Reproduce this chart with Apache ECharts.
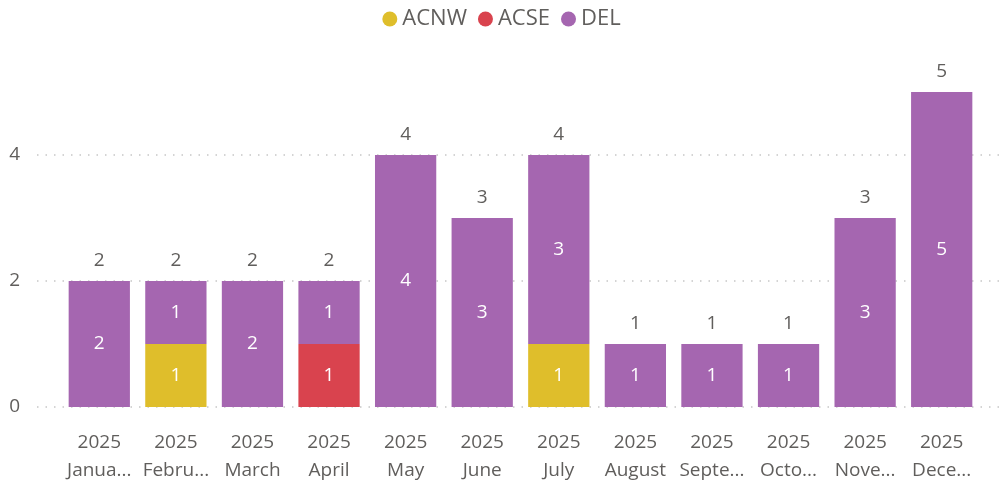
<!DOCTYPE html>
<html>
<head>
<meta charset="utf-8">
<script src="https://cdn.jsdelivr.net/npm/echarts@6/dist/echarts.min.js"></script>
<style>html,body{margin:0;padding:0;background:#fff;}#c{width:1003px;height:482px;}</style>
</head>
<body>
<div id="c"></div>
<script>
var categories = ['2025\nJanua...', '2025\nFebru...', '2025\nMarch', '2025\nApril', '2025\nMay', '2025\nJune', '2025\nJuly', '2025\nAugust', '2025\nSepte...', '2025\nOcto...', '2025\nNove...', '2025\nDece...'];
var acnw = [null, 1, null, null, null, null, 1, null, null, null, null, null];
var acse = [null, null, null, 1, null, null, null, null, null, null, null, null];
var del  = [2, 1, 2, 1, 4, 3, 3, 1, 1, 1, 3, 5];
var totals = [2, 2, 2, 2, 4, 3, 4, 1, 1, 1, 3, 5];
var yTicks = [0, 2, 4];

var FONT = '"Open Sans", "Noto Sans", sans-serif';
var GRAY = '#605E5C';
var chart = echarts.init(document.getElementById('c'), null, {renderer: 'canvas'});
var inside = {show: true, position: 'inside', color: '#fff', fontSize: 19, fontFamily: FONT};
chart.setOption({
  animation: false,
  textStyle: {fontFamily: FONT},
  legend: {
    top: 3, left: 'center', icon: 'circle', itemWidth: 15, itemHeight: 15, itemGap: 11,
    textStyle: {fontSize: 22, color: GRAY, fontFamily: FONT},
    data: ['ACNW', 'ACSE', 'DEL']
  },
  grid: [
    {left: 61, right: 23, top: 29, bottom: 75, outerBoundsMode: 'none', containLabel: false},
    {left: 37, right: 3, top: 29, bottom: 75, outerBoundsMode: 'none', containLabel: false}
  ],
  xAxis: [
    {type: 'category', gridIndex: 0, data: categories,
     axisLine: {show: false}, axisTick: {show: false},
     axisLabel: {color: GRAY, fontSize: 19, lineHeight: 28, margin: 22, fontFamily: FONT, interval: 0}},
    {type: 'value', gridIndex: 1, min: 0, max: 1, show: false}
  ],
  yAxis: [
    {type: 'value', gridIndex: 0, min: 0, max: 6, interval: 2,
     axisLabel: {show: false}, splitLine: {show: false}, axisLine: {show: false}, axisTick: {show: false}},
    {type: 'value', gridIndex: 1, min: 0, max: 6, interval: 2,
     axisLine: {show: false}, axisTick: {show: false},
     axisLabel: {color: GRAY, fontSize: 19, margin: 17, fontFamily: FONT, showMaxLabel: false,
       formatter: function (v) { return yTicks.indexOf(v) >= 0 ? String(v) : ''; }},
     splitLine: {show: true, showMaxLine: false, lineStyle: {color: '#c6c6c6', width: 1.5, type: [1.5, 7]}}}
  ],
  series: [
    {name: 'ACNW', type: 'bar', stack: 'a', data: acnw, barCategoryGap: '20%', itemStyle: {color: '#DFBE2B'}, label: inside},
    {name: 'ACSE', type: 'bar', stack: 'a', data: acse, itemStyle: {color: '#D9434E'}, label: inside},
    {name: 'DEL', type: 'bar', stack: 'a', data: del, itemStyle: {color: '#A566B0'}, label: inside},
    {name: 'Total', type: 'bar', stack: 'a', data: totals.map(function () { return 0; }),
     itemStyle: {color: 'rgba(0,0,0,0)'}, silent: true,
     label: {show: true, position: 'top', distance: 11, color: GRAY, fontSize: 19, fontFamily: FONT,
       formatter: function (p) { return String(totals[p.dataIndex]); }}}
  ]
});
</script>
</body>
</html>
